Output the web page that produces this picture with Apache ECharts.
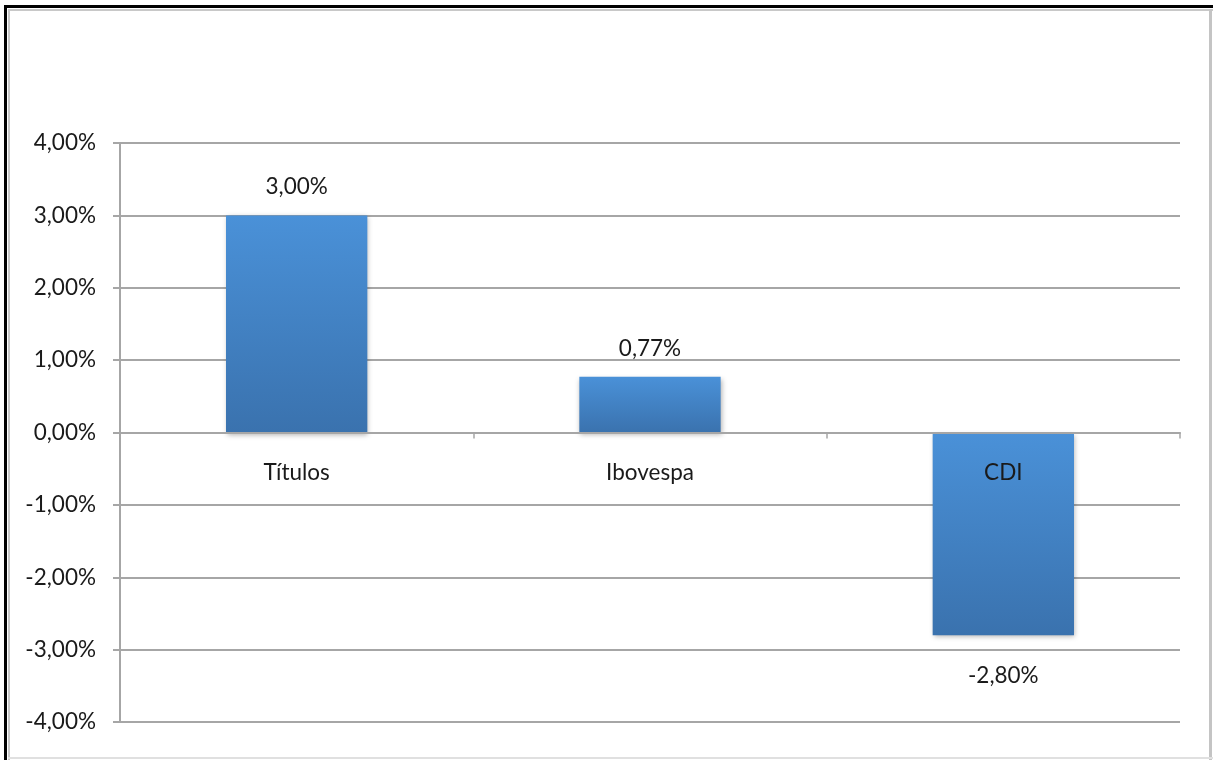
<!DOCTYPE html>
<html>
<head>
<meta charset="utf-8">
<script src="https://cdn.jsdelivr.net/npm/echarts@6/dist/echarts.min.js"></script>
<style>
html,body{margin:0;padding:0;background:#fff;}
#chart{width:1213px;height:760px;}
</style>
</head>
<body>
<div id="chart"></div>
<script>
const categories = ['Títulos', 'Ibovespa', 'CDI'];
const values = [3.00, 0.77, -2.80];
const yTicks = [-4, -3, -2, -1, 0, 1, 2, 3, 4];

function fmt(v) {
  return v.toFixed(2).replace('.', ',') + '%';
}

const chart = echarts.init(document.getElementById('chart'));
const font = 'Lato, "Open Sans", sans-serif';
const fs = 22.5;
const gridTop = 143, gridBottom = 38;
const plotH = 760 - gridTop - gridBottom;
const zeroOffset = -plotH * (0 - (-4)) / 8; // move x axis up to the zero line

chart.setOption({
  animation: false,
  backgroundColor: '#fff',
  grid: { left: 120, right: 33, top: gridTop, bottom: gridBottom, containLabel: false, outerBoundsMode: 'none' },
  graphic: [
    { type: 'rect', shape: { x: 4, y: 5, width: 1209, height: 3 }, style: { fill: '#000' } },
    { type: 'rect', shape: { x: 4, y: 5, width: 3, height: 755 }, style: { fill: '#000' } },
    { type: 'rect', shape: { x: 8, y: 9, width: 1205, height: 2 }, style: { fill: '#c8c8c8' } },
    { type: 'rect', shape: { x: 8, y: 9, width: 2, height: 751 }, style: { fill: '#c8c8c8' } },
    { type: 'rect', shape: { x: 1209, y: 9, width: 3, height: 751 }, style: { fill: '#c4c4c4' } },
    { type: 'rect', shape: { x: 8, y: 757, width: 1205, height: 2 }, style: { fill: '#e0e0e0' } }
  ],
  xAxis: {
    type: 'category',
    data: categories,
    position: 'bottom',
    offset: zeroOffset,
    z: 10,
    axisLine: { onZero: false, lineStyle: { color: '#a6a6a6', width: 2 } },
    axisTick: { show: true, length: 6, lineStyle: { color: '#a6a6a6', width: 1.5 } },
    axisLabel: { color: '#1a1a1a', fontSize: fs, fontFamily: font, margin: 29, hideOverlap: false },
    splitLine: { show: false }
  },
  yAxis: {
    type: 'value',
    min: -4, max: 4, interval: 1,
    axisLine: { show: true, lineStyle: { color: '#a6a6a6', width: 2 } },
    axisTick: { show: true, length: 7, lineStyle: { color: '#a6a6a6', width: 2 } },
    axisLabel: {
      color: '#1a1a1a', fontSize: fs, fontFamily: font, margin: 24,
      formatter: function (v) { return fmt(v); },
      customValues: yTicks
    },
    splitLine: { show: true, lineStyle: { color: '#a6a6a6', width: 2 } }
  },
  series: [{
    type: 'bar',
    z: 2,
    data: values.map(function (v) {
      return v < 0 ? { value: v, label: { position: 'bottom', distance: 29 } } : v;
    }),
    barWidth: '40%',
    itemStyle: {
      color: {
        type: 'linear', x: 0, y: 0, x2: 0, y2: 1,
        colorStops: [
          { offset: 0, color: '#4a91d8' },
          { offset: 1, color: '#3a72ae' }
        ]
      },
      shadowBlur: 5, shadowOffsetY: 2, shadowOffsetX: 1, shadowColor: 'rgba(0,0,0,0.3)'
    },
    label: {
      show: true,
      position: 'top',
      distance: 17,
      color: '#1a1a1a', fontSize: fs, fontFamily: font,
      formatter: function (p) { return fmt(p.value); }
    }
  }]
});
</script>
</body>
</html>
